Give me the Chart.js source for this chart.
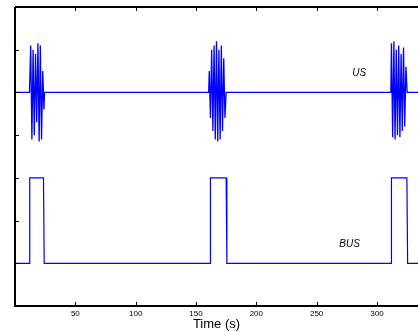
<!DOCTYPE html>
<html><head><meta charset="utf-8">
<script src="https://cdn.jsdelivr.net/npm/chart.js@4.4.1/dist/chart.umd.min.js"></script>
<style>html,body{margin:0;padding:0;background:#fff;overflow:hidden}</style>
</head><body><canvas id="c" width="418" height="332"></canvas>
<script>
// ---- data ----
const xTicks = [50, 100, 150, 200, 250, 300];
const yTicks = [1, 2, 3, 4, 5, 6];
const seriesNames = ['US', 'BUS'];

const busTimes  = [0, 12, 12.2, 23.6, 24.2, 161.8, 162, 175, 175.6, 311.8, 312, 324.8, 325.4, 334];
const busValues = [1, 1,  3,    3,    1,    1,     3,   3,   1,     1,     3,   3,     1,     1];

const usTimes = [0,
  12,13,14,15,16,17,18,19,20,21,22,23,24,24.5,
  160.5,161,162,163,164,165,166,167,168,169,170,171,172,173,174,175,
  311.5,312,313,314,315,316,317,318,319,320,321,322,323,324,325,
  334];
const usValues = [5,
  5,6.1,3.9,6.0,4.0,5.9,4.3,6.15,3.85,6.1,3.9,5.5,4.6,5,
  5,5.5,4.4,6.0,4.1,6.1,3.9,6.2,3.85,6.0,3.9,6.1,4.1,5.8,4.4,5,
  5,6.15,3.95,6.2,3.9,6.0,4.0,6.1,3.95,5.9,4.1,6.05,4.2,5.6,5,
  5];

const toPts = (xs, ys) => xs.map((x, i) => ({x: x, y: ys[i]}));

const frame = {
  id: 'frame',
  afterDraw(chart) {
    const {ctx, chartArea: a, scales: {x, y}} = chart;
    ctx.save();
    ctx.strokeStyle = '#000';
    ctx.lineWidth = 2;
    ctx.beginPath();
    ctx.moveTo(a.left, a.top); ctx.lineTo(a.right, a.top);
    ctx.moveTo(a.left, a.top); ctx.lineTo(a.left, a.bottom);
    ctx.moveTo(a.left - 1, a.bottom); ctx.lineTo(a.right, a.bottom);
    ctx.stroke();
    ctx.lineWidth = 1;
    ctx.beginPath();
    xTicks.forEach(v => {
      const px = Math.round(x.getPixelForValue(v)) + 0.5;
      ctx.moveTo(px, a.top); ctx.lineTo(px, a.top + 4);
      ctx.moveTo(px, a.bottom); ctx.lineTo(px, a.bottom - 4);
    });
    yTicks.forEach(v => {
      const py = Math.round(y.getPixelForValue(v)) + 0.5;
      ctx.moveTo(a.left, py); ctx.lineTo(a.left + 4, py);
    });
    ctx.stroke();
    ctx.fillStyle = '#000';
    ctx.font = 'italic 10px "Liberation Sans", Arial, sans-serif';
    ctx.textAlign = 'left';
    ctx.textBaseline = 'alphabetic';
    ctx.fillText(seriesNames[0], x.getPixelForValue(279.5), y.getPixelForValue(5.377));
    ctx.fillText(seriesNames[1], x.getPixelForValue(268.8), y.getPixelForValue(1.372));
    ctx.restore();
  }
};

new Chart(document.getElementById('c'), {
  type: 'line',
  data: {
    datasets: [
      {label: seriesNames[0], data: toPts(usTimes, usValues), borderColor: '#0000ff', borderWidth: 1.3, pointRadius: 0, tension: 0, fill: false},
      {label: seriesNames[1], data: toPts(busTimes, busValues), borderColor: '#0000ff', borderWidth: 1.2, pointRadius: 0, tension: 0, fill: false}
    ]
  },
  options: {
    responsive: false,
    animation: false,
    devicePixelRatio: 1,
    layout: {padding: {top: 7, left: 15, right: 0, bottom: 0}},
    plugins: {legend: {display: false}, tooltip: {enabled: false}},
    scales: {
      x: {
        type: 'linear', min: 0, max: 334,
        afterBuildTicks: s => { s.ticks = xTicks.map(v => ({value: v})); },
        afterFit: s => { s.height = 26; },
        ticks: {font: {size: 8, family: '"Liberation Sans", Arial, sans-serif'}, color: '#000', maxRotation: 0, padding: 3, autoSkip: false},
        grid: {display: false, drawTicks: false},
        border: {display: false},
        title: {display: true, text: 'Time (s)', color: '#000', font: {size: 13, family: '"Liberation Sans", Arial, sans-serif'}, padding: {top: 0, bottom: 0}}
      },
      y: {min: 0, max: 7, display: false}
    }
  },
  plugins: [frame]
});
</script>
</body></html>
